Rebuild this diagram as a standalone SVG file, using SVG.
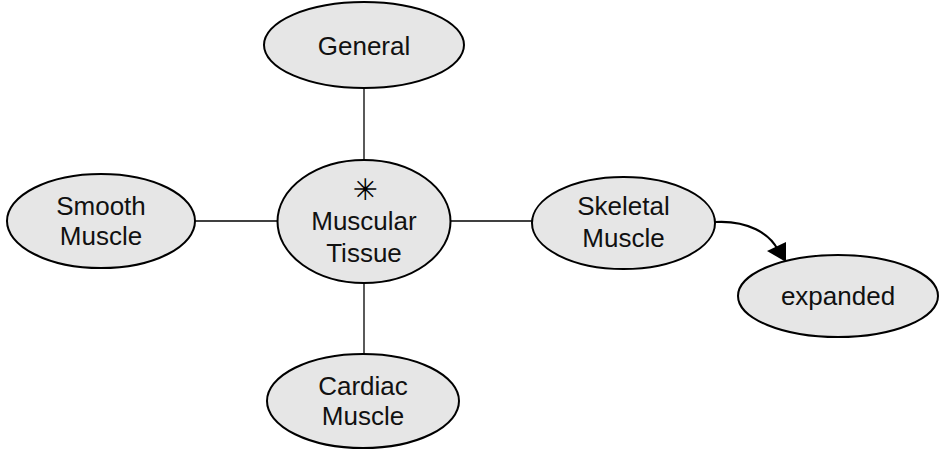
<svg xmlns="http://www.w3.org/2000/svg" width="943" height="449" viewBox="0 0 943 449">
<defs>
<style>
.n ellipse{fill:#e6e6e6;stroke:#000;stroke-width:2}
.n text{font-family:"Liberation Sans",Arial,sans-serif;font-size:26px;fill:#111;text-anchor:middle}
.n text.star{font-family:"DejaVu Sans",sans-serif;font-size:30px;fill:#000}
.c line,.c path.edge{stroke:#000;stroke-width:1.3;fill:none}
.c path.head{fill:#000;stroke:none}
</style>
</defs>
<rect width="943" height="449" fill="#fff"/>
<g id="connectors" class="c">
<line x1="364" y1="88" x2="364" y2="160"/>
<line x1="364" y1="283" x2="364" y2="354"/>
<line x1="195" y1="221" x2="277" y2="221"/>
<line x1="450" y1="221" x2="532" y2="221"/>
<path class="edge" d="M715,222 C748,220 770,234 778,250" style="stroke-width:2.2"/>
<path class="head" d="M767,251 L786,242 L786,262 Z"/>
</g>
<g id="general" class="n">
<ellipse cx="364" cy="45" rx="100" ry="43"/>
<text x="364" y="55">General</text>
</g>
<g id="muscular" class="n">
<ellipse cx="364" cy="221.5" rx="86.5" ry="61.5"/>
<text class="star" x="365" y="200">✳</text>
<text x="364" y="230">Muscular</text>
<text x="364" y="262">Tissue</text>
</g>
<g id="smooth" class="n">
<ellipse cx="101" cy="221" rx="94" ry="47"/>
<text x="101" y="215">Smooth</text>
<text x="101" y="245">Muscle</text>
</g>
<g id="skeletal" class="n">
<ellipse cx="623.5" cy="223" rx="91.5" ry="46"/>
<text x="623.5" y="215">Skeletal</text>
<text x="623.5" y="247">Muscle</text>
</g>
<g id="expanded" class="n">
<ellipse cx="838" cy="296" rx="100" ry="41"/>
<text x="838" y="305">expanded</text>
</g>
<g id="cardiac" class="n">
<ellipse cx="363" cy="401" rx="96" ry="47"/>
<text x="363" y="395">Cardiac</text>
<text x="363" y="425">Muscle</text>
</g>
</svg>
